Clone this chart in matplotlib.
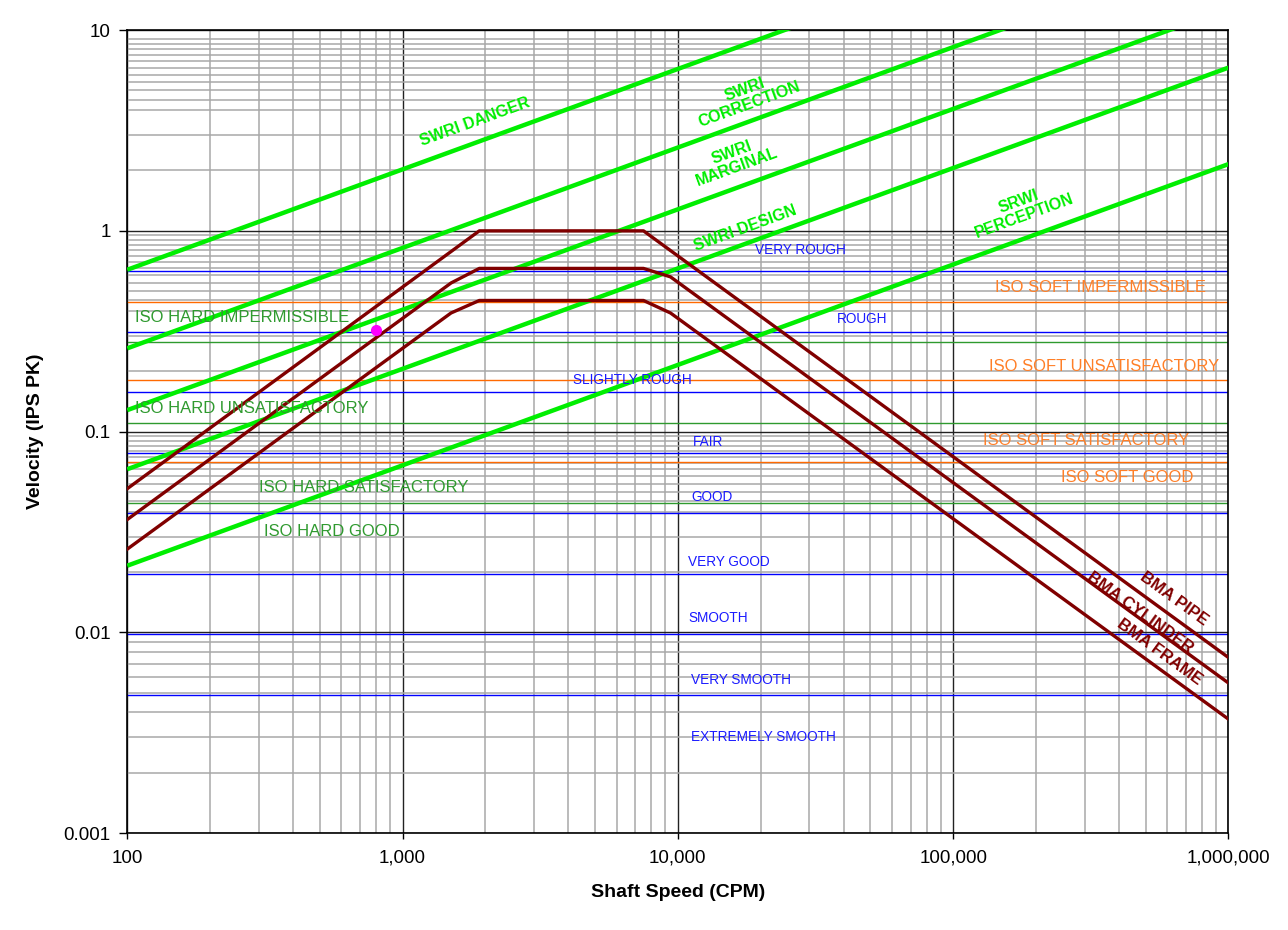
import numpy as np
import matplotlib
matplotlib.use("Agg")
from matplotlib import pyplot as plt
from matplotlib.ticker import FixedLocator, NullFormatter, LogLocator

plt.rcParams["font.family"] = ["Liberation Sans", "DejaVu Sans"]

# chart range (CPM)
cpm_ends = [100, 1000000]

# SwRI guideline lines: value at 100 CPM and at 1,000,000 CPM
swri_names = ["SWRI DANGER", "SWRI\nCORRECTION", "SWRI\nMARGINAL",
              "SWRI DESIGN", "SRWI\nPERCEPTION"]
swri_at_100 = [0.64, 0.26, 0.128, 0.065, 0.0215]
swri_at_1m = [64.0, 26.0, 12.8, 6.5, 2.15]

# BMA curves (corner points)
bma_names = ["BMA PIPE", "BMA CYLINDER", "BMA FRAME"]
bma_cpm = [
    [100, 1900, 7500, 1000000],
    [100, 1500, 1900, 7500, 9400, 1000000],
    [100, 1500, 1900, 7500, 9400, 1000000],
]
bma_ips = [
    [0.052, 1.0, 1.0, 0.0075],
    [0.0365, 0.55, 0.65, 0.65, 0.59, 0.0056],
    [0.026, 0.39, 0.45, 0.45, 0.39, 0.0037],
]

# general severity bands
severity_names = ["VERY ROUGH", "ROUGH", "SLIGHTLY ROUGH", "FAIR", "GOOD",
                  "VERY GOOD", "SMOOTH", "VERY SMOOTH", "EXTREMELY SMOOTH"]
severity_limits = [0.628, 0.314, 0.157, 0.0785, 0.0392, 0.0196, 0.0098, 0.0049]

# ISO limits
iso_soft_names = ["ISO SOFT IMPERMISSIBLE", "ISO SOFT UNSATISFACTORY",
                  "ISO SOFT SATISFACTORY", "ISO SOFT GOOD"]
iso_soft_limits = [0.44, 0.18, 0.071]
iso_hard_names = ["ISO HARD IMPERMISSIBLE", "ISO HARD UNSATISFACTORY",
                  "ISO HARD SATISFACTORY", "ISO HARD GOOD"]
iso_hard_limits = [0.28, 0.11, 0.044]

# measured point
point_cpm = [800]
point_ips = [0.32]

# label anchor points (data coords)
swri_label_xy = [(1830, 3.48), (17800, 4.64), (16000, 2.25), (17500, 1.03), (177000, 1.29)]
bma_label_xy = [(635000, 0.0147), (475000, 0.0126), (562000, 0.0080)]
severity_label_xy = [(19000, 0.80), (37700, 0.366), (4170, 0.18), (11300, 0.0885),
                     (11200, 0.0473), (10900, 0.0224), (10950, 0.01175),
                     (11140, 0.00577), (11140, 0.00303)]
iso_soft_label_xy = [(141600, 0.522), (135000, 0.21), (128000, 0.0906), (247000, 0.059)]
iso_hard_label_xy = [(106.6, 0.37), (106.6, 0.130), (301, 0.053), (314, 0.032)]

LIME = "#00ee00"
BMA = "#800000"
BLUE = "#0000ff"
ORANGE = "#ff6a00"
HARD = "#2f9a2f"

fig = plt.figure(figsize=(12.88, 9.3), dpi=100)
ax = fig.add_axes([0.0988, 0.104, 0.855, 0.8637])
ax.set_xscale("log")
ax.set_yscale("log")
ax.set_xlim(100, 1000000)
ax.set_ylim(0.001, 10)

# grid
ax.xaxis.set_minor_locator(LogLocator(base=10, subs=np.arange(2, 10)))
minor_y = []
for dec, subs in [(0.001, [2, 3, 4, 5, 6, 7, 8, 9]),
                  (0.01, [2, 3, 4, 4.5, 5, 5.5, 6, 6.5, 7, 7.5, 8, 8.5, 9, 9.5]),
                  (0.1, [2, 3, 4, 4.5, 5, 5.5, 6, 6.5, 7, 7.5, 8, 8.5, 9, 9.5]),
                  (1, [2, 3, 4, 4.5, 5, 5.5, 6, 6.5, 7, 7.5, 8, 8.5, 9])]:
    minor_y += [dec * s for s in subs]
ax.yaxis.set_minor_locator(FixedLocator(minor_y))
ax.xaxis.set_minor_formatter(NullFormatter())
ax.yaxis.set_minor_formatter(NullFormatter())
ax.grid(which="minor", color="#a8a8a8", lw=1.1, zorder=0)
ax.grid(which="major", color="#222222", lw=1.0, zorder=0)
ax.set_axisbelow(True)

ax.set_xticks([100, 1000, 10000, 100000, 1000000])
ax.set_xticklabels(["100", "1,000", "10,000", "100,000", "1,000,000"])
ax.set_yticks([0.001, 0.01, 0.1, 1, 10])
ax.set_yticklabels(["0.001", "0.01", "0.1", "1", "10"])
ax.tick_params(which="minor", length=0)
ax.tick_params(which="major", axis="y", length=6, width=1, labelsize=13.5, pad=6)
ax.tick_params(which="major", axis="x", length=4, width=1, labelsize=13.5, pad=8)
for s in ax.spines.values():
    s.set_color("black")
    s.set_linewidth(1.2)

# horizontal limit lines
for v in severity_limits:
    ax.axhline(v, color=BLUE, lw=1.0, zorder=2)
for v in iso_soft_limits:
    ax.axhline(v, color=ORANGE, lw=1.0, zorder=2)
for v in iso_hard_limits:
    ax.axhline(v, color=HARD, lw=1.0, zorder=2)

# SwRI lines
for a, b in zip(swri_at_100, swri_at_1m):
    ax.plot(cpm_ends, [a, b], color=LIME, lw=3.2, zorder=4, solid_capstyle="butt")

# BMA curves
for xs, ys in zip(bma_cpm, bma_ips):
    ax.plot(xs, ys, color=BMA, lw=2.4, zorder=5)

ax.plot(point_cpm, point_ips, "o", color="#ff00ff", ms=7, zorder=6)

# labels
for name, (x, y) in zip(swri_names, swri_label_xy):
    ax.text(x, y, name, color=LIME, fontsize=11.5, fontweight="bold", rotation=20,
            rotation_mode="anchor", ha="center", va="center", multialignment="center",
            linespacing=1.0, zorder=7)
for name, (x, y) in zip(bma_names, bma_label_xy):
    ax.text(x, y, name, color=BMA, fontsize=12, fontweight="bold", rotation=-36,
            rotation_mode="anchor", ha="center", va="center", zorder=7)
for name, (x, y) in zip(severity_names, severity_label_xy):
    ax.text(x, y, name, color="#1a1aff", fontsize=9.8, ha="left", va="center", zorder=7)
for name, (x, y) in zip(iso_soft_names, iso_soft_label_xy):
    ax.text(x, y, name, color="#ff7f27", fontsize=12, ha="left", va="center", zorder=7)
for name, (x, y) in zip(iso_hard_names, iso_hard_label_xy):
    ax.text(x, y, name, color=HARD, fontsize=12, ha="left", va="center", zorder=7)

ax.set_xlabel("Shaft Speed (CPM)", fontsize=14, fontweight="bold", labelpad=12)
ax.set_ylabel("Velocity (IPS PK)", fontsize=14, fontweight="bold", labelpad=14)

fig.savefig("out.png", dpi=100, facecolor="white")
